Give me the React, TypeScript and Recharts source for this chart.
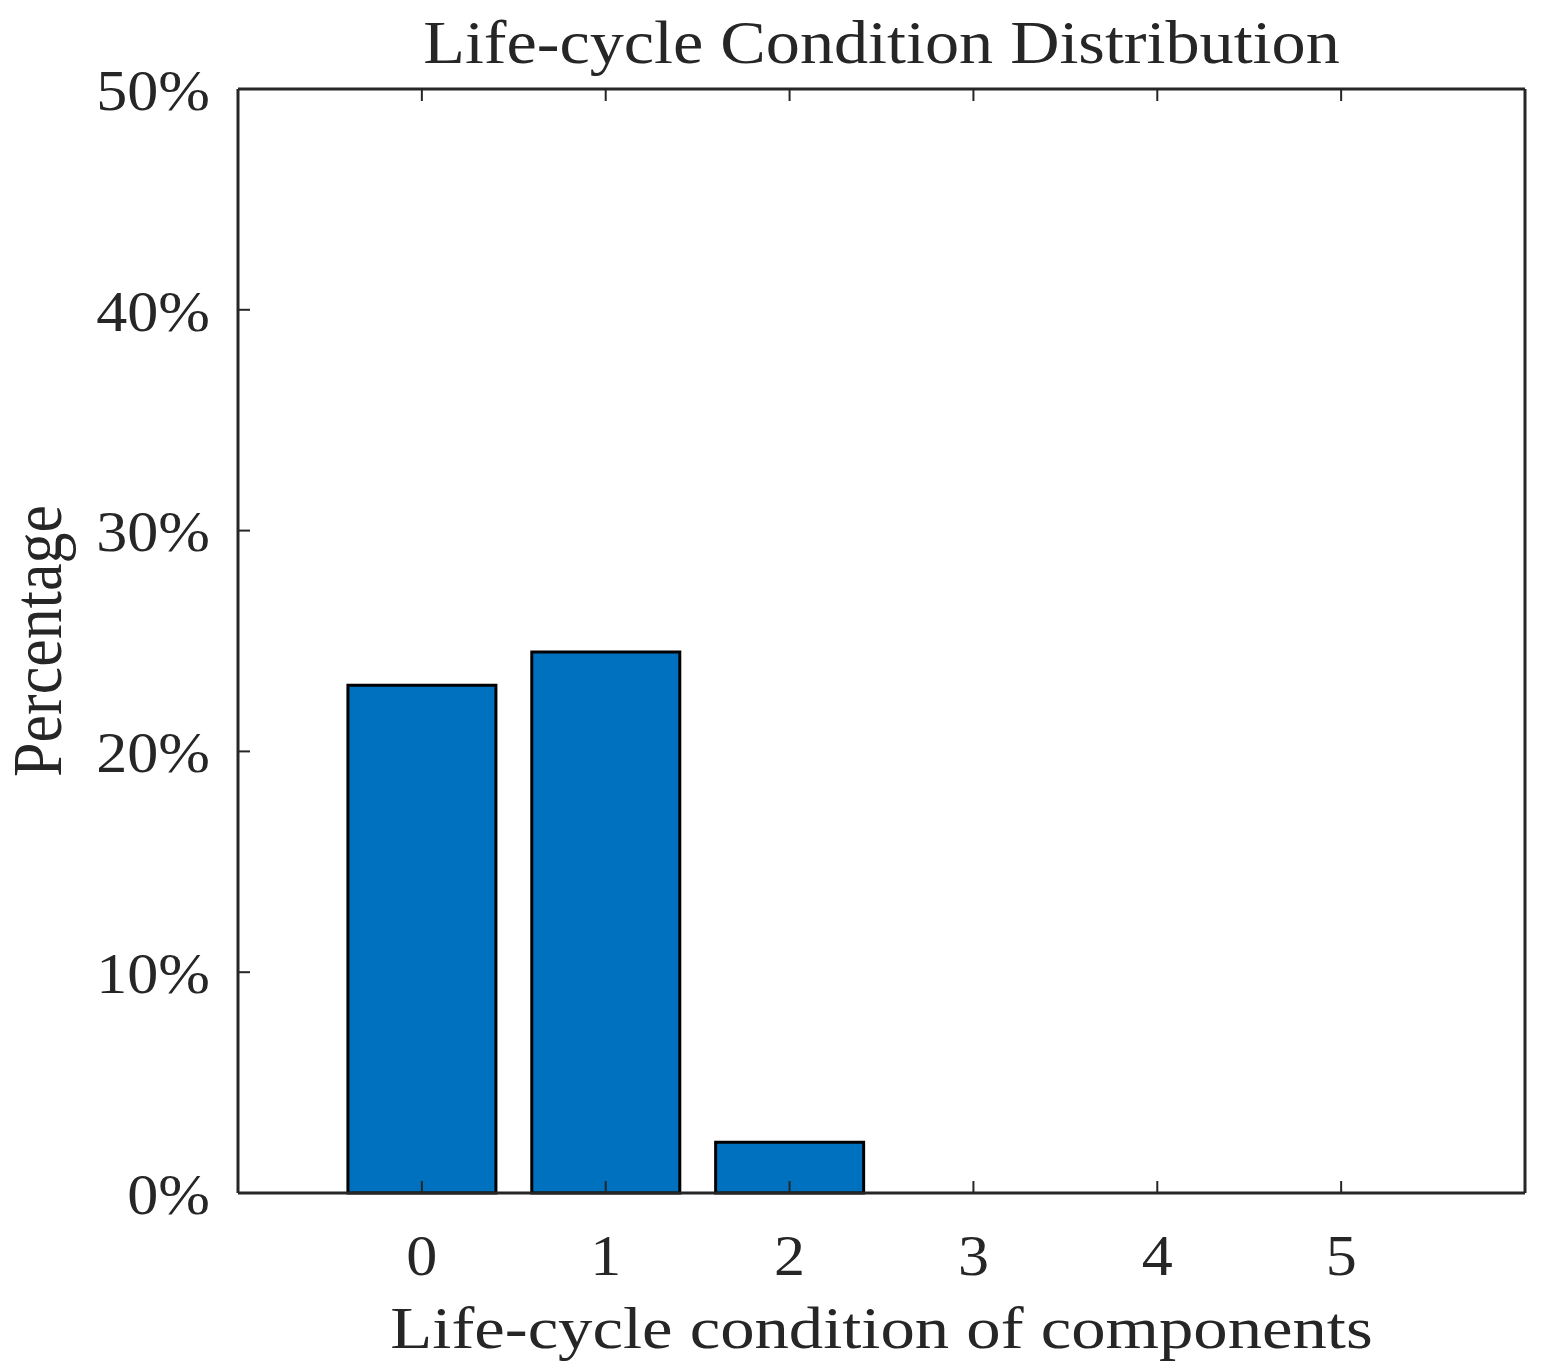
import React from 'react';
import { BarChart, Bar, XAxis, YAxis, Label } from 'recharts';

const categories = [0, 1, 2, 3, 4, 5];
const percentages = [23.0, 24.5, 2.3, 0, 0, 0];
const yTicks = [0, 10, 20, 30, 40, 50];

const data = categories.map((c, i) => ({ condition: c, pct: percentages[i] }));

const FONT = '"Liberation Serif", "Times New Roman", serif';
const TEXT = '#262626';
const AXIS = '#262626';

const stretch = (cx: number, s: number) => `translate(${cx},0) scale(${s},1) translate(${-cx},0)`;

const XTick = (props: any) => {
  const { x, y, payload } = props;
  return (
    <text x={x} y={y} dy="0.71em" textAnchor="middle" fontFamily={FONT} fontSize={58} fill={TEXT} transform={stretch(x, 1.07)}>
      {payload.value}
    </text>
  );
};

const YTick = (props: any) => {
  const { x, y, payload } = props;
  return (
    <text x={x} y={y} dy="0.36em" textAnchor="end" fontFamily={FONT} fontSize={58} fill={TEXT} transform={stretch(x, 1.07)}>
      {`${payload.value}%`}
    </text>
  );
};

const EmptyTick = () => <g />;

export default function App() {
  return (
    <div style={{ position: 'absolute', left: 0, top: 0, width: 1548, height: 1370, background: '#fff' }}>
      <BarChart
        width={1548}
        height={1370}
        data={data}
        margin={{ top: 88, right: 22, left: 0, bottom: 0 }}
      >
        <XAxis
          dataKey="condition"
          type="number"
          domain={[-1, 6]}
          ticks={categories}
          allowDataOverflow
          height={177}
          tickSize={-12}
          tickMargin={53}
          tick={<XTick />}
          axisLine={{ stroke: AXIS, strokeWidth: 3 }}
          tickLine={{ stroke: AXIS, strokeWidth: 2 }}
        >
          <Label
            content={(p: any) => {
              const vb = p.viewBox;
              const cx = vb.x + vb.width / 2;
              return (
                <text x={cx} y={1348} textAnchor="middle" fontFamily={FONT} fontSize={60} fill={TEXT} transform={stretch(cx, 1.145)}>
                  Life-cycle condition of components
                </text>
              );
            }}
          />
        </XAxis>
        <XAxis
          xAxisId="top"
          dataKey="condition"
          type="number"
          orientation="top"
          domain={[-1, 6]}
          ticks={categories}
          allowDataOverflow
          height={1}
          tickSize={-12}
          tick={<EmptyTick />}
          axisLine={{ stroke: AXIS, strokeWidth: 3 }}
          tickLine={{ stroke: AXIS, strokeWidth: 2 }}
        >
          <Label
            content={(p: any) => {
              const vb = p.viewBox;
              const cx = vb.x + vb.width / 2;
              return (
                <text x={cx} y={63} textAnchor="middle" fontFamily={FONT} fontSize={62} fill={TEXT} transform={stretch(cx, 1.1)}>
                  Life-cycle Condition Distribution
                </text>
              );
            }}
          />
        </XAxis>
        <YAxis
          domain={[0, 50]}
          ticks={yTicks}
          width={238}
          tickSize={-12}
          tickMargin={40}
          tick={<YTick />}
          axisLine={{ stroke: AXIS, strokeWidth: 3 }}
          tickLine={{ stroke: AXIS, strokeWidth: 2 }}
        >
          <Label
            content={(p: any) => {
              const vb = p.viewBox;
              const cy = vb.y + vb.height / 2;
              return (
                <text x={0} y={0} transform={`translate(61, ${cy}) scale(1.12,1) rotate(-90)`} textAnchor="middle" fontFamily={FONT} fontSize={62} fill={TEXT}>
                  Percentage
                </text>
              );
            }}
          />
        </YAxis>
        <YAxis
          yAxisId="right"
          orientation="right"
          domain={[0, 50]}
          ticks={yTicks}
          width={1}
          tickSize={-12}
          tick={<EmptyTick />}
          axisLine={{ stroke: AXIS, strokeWidth: 3 }}
          tickLine={{ stroke: AXIS, strokeWidth: 2 }}
        />
        <Bar dataKey="pct" fill="#0071BE" stroke="#000" strokeWidth={3} barSize={148} isAnimationActive={false} />
      </BarChart>
    </div>
  );
}
